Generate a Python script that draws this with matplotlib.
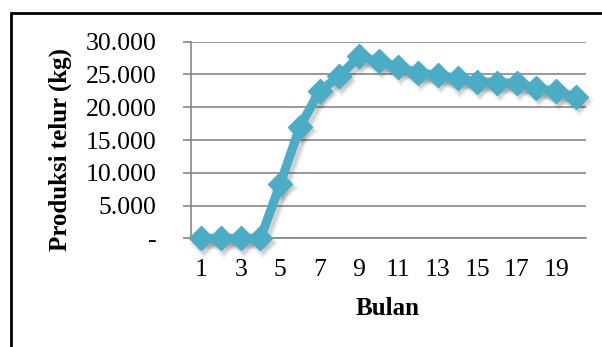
import numpy as np
import matplotlib.pyplot as plt
import matplotlib.transforms as mtransforms
from matplotlib.patches import Rectangle
from matplotlib.ticker import FuncFormatter

bulan = list(range(1, 21))
produksi = [0, 0, 0, 0, 8300, 17000, 22500, 24700, 27800, 27000,
            26200, 25200, 24900, 24400, 23900, 23750, 23650, 22900, 22400, 21600]
yticks = [0, 5000, 10000, 15000, 20000, 25000, 30000]
xticks = list(range(1, 21, 2))

plt.rcParams['font.family'] = ['Liberation Serif', 'DejaVu Serif']

fig = plt.figure(figsize=(6.02, 3.47), dpi=100)
ax = fig.add_axes([0.318, 0.313, 0.655, 0.567])

# soft shadow below the series (Excel style)
for dx, dy, a, lw in [(2, -3, 0.10, 10), (2, -3, 0.15, 7)]:
    off = ax.transData + mtransforms.ScaledTranslation(dx / 72, dy / 72, fig.dpi_scale_trans)
    ax.plot(bulan, produksi, color='#404040', alpha=a, linewidth=lw, marker='D',
            markersize=lw + 5, markeredgewidth=0, transform=off, clip_on=False, zorder=2)

ax.plot(bulan, produksi, color='#4BACC6', linewidth=6.5, marker='D', markersize=12,
        markeredgecolor='#4BACC6', clip_on=False, zorder=3)

def fmt(v, pos):
    if v == 0:
        return '-'
    return '{:,.0f}'.format(v).replace(',', '.')

ax.set_xlim(0.5, 20.5)
ax.set_ylim(0, 30000)
ax.set_yticks(yticks)
ax.yaxis.set_major_formatter(FuncFormatter(fmt))
ax.set_xticks(xticks)
ax.grid(axis='y', color='#868686', linewidth=1.2)
ax.set_axisbelow(True)
for s in ['top', 'right']:
    ax.spines[s].set_visible(False)
ax.spines['left'].set_color('#868686')
ax.spines['bottom'].set_color('#868686')
ax.spines['left'].set_linewidth(1.2)
ax.spines['bottom'].set_linewidth(1.2)
ax.tick_params(axis='y', length=6, color='#868686', width=1.2, pad=19, labelsize=18.5)
ax.tick_params(axis='x', length=0, pad=15, labelsize=18.5)

fig.text(0.100, 0.569, 'Produksi telur (kg)', rotation=90, fontsize=18,
         fontweight='bold', ha='center', va='center')
fig.text(0.644, 0.112, 'Bulan', fontsize=18, fontweight='bold', ha='center', va='center')

# outer frame of the chart (runs off the right and bottom of the picture)
x0 = 10.5 / 602
y0 = 1 - 12.5 / 347
frame = Rectangle((x0, -0.05), 1.05 - x0, y0 + 0.05, transform=fig.transFigure,
                  fill=False, edgecolor='black', linewidth=2.0)
fig.add_artist(frame)

fig.savefig('out.png', dpi=100)
